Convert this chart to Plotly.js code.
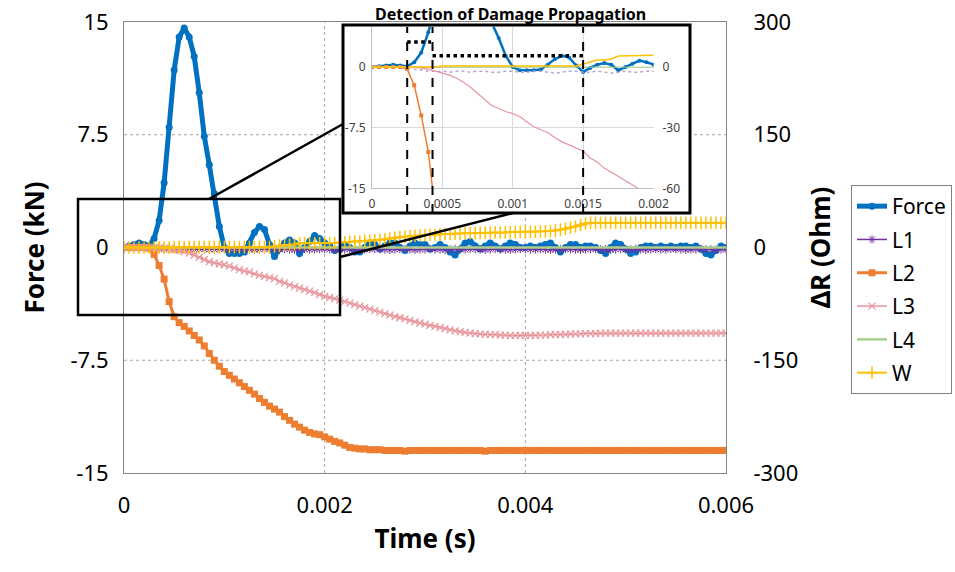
<!DOCTYPE html>
<html><head><meta charset="utf-8">
<script src="https://cdn.plot.ly/plotly-3.0.1.min.js"></script>
<style>html,body{margin:0;padding:0;background:#fff}#chart{width:955px;height:572px}</style>
</head><body><div id="chart"></div>
<script>
// time (s)
const T = [
0,0.00005,0.0001,0.00015,0.0002,0.00025,0.0003,0.00035,0.0004,0.00045,
0.0005,0.00055,0.0006,0.00065,0.0007,0.00075,0.0008,0.00085,0.0009,0.00095,
0.001,0.00105,0.0011,0.00115,0.0012,0.00125,0.0013,0.00135,0.0014,0.00145,
0.0015,0.00155,0.0016,0.00165,0.0017,0.00175,0.0018,0.00185,0.0019,0.00195,
0.002,0.00205,0.0021,0.00215,0.0022,0.00225,0.0023,0.00235,0.0024,0.00245,
0.0025,0.00255,0.0026,0.00265,0.0027,0.00275,0.0028,0.00285,0.0029,0.00295,
0.003,0.00305,0.0031,0.00315,0.0032,0.00325,0.0033,0.00335,0.0034,0.00345,
0.0035,0.00355,0.0036,0.00365,0.0037,0.00375,0.0038,0.00385,0.0039,0.00395,
0.004,0.00405,0.0041,0.00415,0.0042,0.00425,0.0043,0.00435,0.0044,0.00445,
0.0045,0.00455,0.0046,0.00465,0.0047,0.00475,0.0048,0.00485,0.0049,0.00495,
0.005,0.00505,0.0051,0.00515,0.0052,0.00525,0.0053,0.00535,0.0054,0.00545,
0.0055,0.00555,0.0056,0.00565,0.0057,0.00575,0.0058,0.00585,0.0059,0.00595,
0.006];
// Force (kN)
const force = [
0,0.1,0.2,0.3,0.2,0.1,0.6,1.8,4.3,8.0,
11.8,14.0,14.6,14.0,12.7,10.3,7.4,5.5,3.6,1.4,
0.0,-0.4,-0.4,-0.4,-0.3,0.3,1.0,1.4,1.2,0.2,
-0.6,-0.1,0.3,0.5,0.3,-0.4,0.0,0.4,0.8,0.6,
0.3,0.1,-0.2,-0.1,0.2,0.0,-0.3,-0.3,0.0,0.3,
0.2,-0.1,0.1,0.3,0.3,0.0,-0.2,0.1,0.3,0.2,
0.2,-0.1,0.0,0.2,0.0,-0.3,-0.5,-0.1,0.3,0.4,
0.1,-0.1,0.1,0.3,0.1,-0.1,0.1,0.3,0.2,0.0,
0.0,0.1,0.0,0.1,0.2,0.3,0.0,-0.3,0.0,0.2,
0.2,0.0,0.1,0.1,0.0,-0.2,-0.4,0.0,0.3,0.2,
-0.1,-0.4,-0.3,0.0,0.1,0.1,0.0,0.1,0.0,0.1,
0.0,0.1,0.1,0.0,0.1,-0.1,-0.4,-0.5,-0.2,0.1,
0.0];
// ΔR (Ohm)
const L1 = [
0,0,0,0,0,0,-1,-1.5,-2,-2,
-2,-2.5,-2,-2,-2.5,-2,-2,-2.5,-2.5,-2,
-2,-2.5,-2.5,-2,-2,-2.5,-3,-2.5,-2,-2,
-2.5,-2.5,-2,-2.5,-3,-2.5,-2,-2.5,-2.5,-2,
-2,-2.5,-3,-2.5,-2.5,-2,-2.5,-3,-2.5,-2,
-2,-2.5,-2.5,-3,-2.5,-2,-2,-2.5,-3,-2.5,
-2.5,-2,-2.5,-2.5,-3,-2.5,-2,-2.5,-2.5,-2,
-2,-2.5,-3,-2.5,-2,-2.5,-2.5,-3,-2.5,-2,
-2,-2.5,-2.5,-2,-2.5,-3,-2.5,-2.5,-2,-2.5,
-2.5,-3,-2.5,-2,-2,-2.5,-2.5,-3,-2.5,-2,
-2.5,-2.5,-2,-2.5,-3,-2.5,-2,-2.5,-2.5,-2,
-2,-2.5,-3,-2.5,-2.5,-2,-2.5,-2.5,-3,-2.5,
-2.5];
const L2 = [
0,0,0,0,0,-1,-9,-24,-42,-72,
-92,-100,-105,-111,-117,-123,-131,-141,-150,-158,
-165,-170,-175,-180,-185,-190,-195,-201,-206,-211,
-215,-219,-225,-230,-235,-239,-243,-246,-248,-249,
-252,-255,-258,-260,-263,-266,-267,-268,-268,-269,
-269,-269,-270,-270,-270,-270,-271,-270,-270,-270,
-270,-270,-270,-270,-270,-270,-270,-270,-270,-270,
-270,-270,-271,-270,-270,-270,-270,-270,-270,-270,
-270,-270,-270,-270,-270,-270,-270,-270,-270,-270,
-270,-270,-270,-270,-270,-270,-270,-270,-270,-270,
-270,-270,-270,-270,-270,-270,-270,-270,-270,-270,
-270,-270,-270,-270,-270,-270,-270,-270,-270,-270,
-270];
const L3 = [
0,0,0,0,0,0,0,-0.5,-1,-2,
-3,-4,-5.5,-7.5,-10,-13,-16,-19,-20.5,-22,
-23,-24.5,-27,-29.5,-31,-32.5,-35,-37,-38.5,-40,
-41.5,-45,-47,-50,-52,-54,-56,-58,-60,-62.5,
-65,-66.5,-68,-70,-72,-74,-76,-78,-80,-82,
-84,-86,-88,-90,-92,-93.5,-95,-97,-99,-100.5,
-102,-103.5,-105,-106.5,-108,-109.5,-111,-112,-113,-114,
-114.5,-115,-115.5,-116,-116,-116.5,-116.5,-117,-117,-117,
-117,-117,-117,-116.5,-116.5,-116,-116,-115.5,-115.5,-115,
-115,-115,-114.5,-114.5,-114.5,-114,-114,-114,-114,-114,
-114,-114,-114,-114,-114,-114,-114,-114,-114,-114,
-114,-114,-114,-114,-114,-114,-114,-114,-114,-114,
-114];
const L4 = [
0,0,0,0,0,0,0,0,0,0,
0,0,0,0,0,0,0,0,0,0,
0,0,0,0,0,0,0,0,0,0,
0,0,0,0,0,0,0,0,0,0,
0,0,0,0,0,0,0,0,0,0,
0,0,0,0,0,0,0,0,0,0,
0,0,0,0,0,0,0,0,0,0,
0,0,0,0,0,0,0,0,0,0,
0,0,0,0,0,0,0,0,0,0,
0,0,0,0,0,0,0,0,0,0,
0,0,0,0,0,0,0,0,0,0,
0,0,0,0,0,0,0,0,0,0,
0];
const W = [
0,0,0,0,0,0,0,0,0,0,
0.5,0.5,0.5,0.5,0.5,0.5,0.5,0.5,0.5,0.5,
0.5,0.5,0.5,0.5,0.5,0.5,0.5,0.5,0.5,0.5,
1.5,2.5,3.5,3.5,4,5.5,5.5,5.5,5.5,5.5,
5.5,5.5,6,6.5,7,7.5,8,8,8.5,9,
9.5,10,11,12,13,14,14.5,15,15.5,16,
16.5,17,17,17.5,18,18,18.5,18.5,19,19,
19,19.5,19.5,20,20,20,20,20.5,20.5,21,
21,21,21,21.5,21.5,22,22.5,23.5,25,26.5,
28,30,32,33,33,33,33,33,33,33,
33,33,33,33,33,33,33,33,33,33,
33,33,33,33,33,33,33,33,33,33,
33];

// ticks
const xTicks = [0,0.002,0.004,0.006];
const xTickText = ['0','0.002','0.004','0.006'];
const yTicks = [-15,-7.5,0,7.5,15];
const yTickText = ['-15','-7.5','0','7.5','15'];
const y2Ticks = [-300,-150,0,150,300];
const y2TickText = ['-300','-150','0','150','300'];
const insetXTicks = [0,0.0005,0.001,0.0015,0.002];
const insetXTickText = ['0','0.0005','0.001','0.0015','0.002'];
const insetYTicks = [-15,-7.5,0];
const insetYTickText = ['-15','-7.5','0'];
const insetY2Ticks = [-60,-30,0];
const insetY2TickText = ['-60','-30','0'];
const gridX = [0.002,0.004];
const gridY = [-7.5,7.5];
// damage-event markers in inset
const damageTimes = [0.00025,0.00043,0.0015];
const damageSpans = [[0.00025,0.00042,3.1],[0.00043,0.0015,1.4]];

const C = {force:'#0070C0', L1:'#7030A0', L2:'#ED7D31', L3:'#E8959C', L4:'#A9D18E', W:'#FFC000'};
const FONT = '"Noto Sans","Open Sans",sans-serif';

const traces = [
 {x:T,y:force,name:'Force',legendgroup:'a',xaxis:'x',yaxis:'y',mode:'lines+markers',line:{color:C.force,width:5},marker:{symbol:'circle',size:7,color:C.force}},
 {x:T,y:L1,name:'L1',legendgroup:'b',xaxis:'x',yaxis:'y2',mode:'lines+markers',line:{color:C.L1,width:1.5},marker:{symbol:'asterisk-open',size:7,color:C.L1,line:{color:C.L1,width:1}}},
 {x:T,y:L2,name:'L2',legendgroup:'c',xaxis:'x',yaxis:'y2',mode:'lines+markers',line:{color:C.L2,width:3},marker:{symbol:'square',size:7,color:C.L2}},
 {x:T,y:L3,name:'L3',legendgroup:'d',xaxis:'x',yaxis:'y2',mode:'lines+markers',line:{color:C.L3,width:1.5},marker:{symbol:'x-thin-open',size:7,color:C.L3,line:{color:C.L3,width:1.2}}},
 {x:T,y:L4,name:'L4',legendgroup:'e',xaxis:'x',yaxis:'y2',mode:'lines',line:{color:C.L4,width:2.5}},
 {x:T,y:W,name:'W',legendgroup:'f',xaxis:'x',yaxis:'y2',mode:'lines+markers',line:{color:C.W,width:2},marker:{symbol:'cross-thin-open',size:9,color:C.W,line:{color:C.W,width:1.5}}},
 // inset
 {x:T,y:force,xaxis:'x2',yaxis:'y3',showlegend:false,mode:'lines+markers',line:{color:C.force,width:2.5},marker:{size:4,color:C.force}},
 {x:T,y:L1,xaxis:'x2',yaxis:'y4',showlegend:false,mode:'lines',line:{color:'#B9A3D1',width:1.5,dash:'dot'}},
 {x:T,y:L2,xaxis:'x2',yaxis:'y4',showlegend:false,mode:'lines+markers',line:{color:C.L2,width:1.5},marker:{symbol:'square',size:4,color:C.L2}},
 {x:T,y:L3,xaxis:'x2',yaxis:'y4',showlegend:false,mode:'lines',line:{color:C.L3,width:1.2}},
 {x:T,y:L4,xaxis:'x2',yaxis:'y4',showlegend:false,mode:'lines',line:{color:C.L4,width:1}},
 {x:T,y:W,xaxis:'x2',yaxis:'y4',showlegend:false,mode:'lines',line:{color:C.W,width:1.5}}
];

const P = {l:124,r:229,t:22,b:99,w:955,h:572};
const px = v => (v-P.l)/(P.w-P.l-P.r);
const py = v => (P.h-P.b-v)/(P.h-P.t-P.b);

const shapes = [];
gridX.forEach(g=>shapes.push({type:'line',xref:'x',yref:'paper',x0:g,x1:g,y0:0,y1:1,layer:'below',line:{color:'#A6A6A6',width:1,dash:'dot'}}));
gridY.forEach(g=>shapes.push({type:'line',xref:'paper',yref:'y',x0:0,x1:1,y0:g,y1:g,layer:'below',line:{color:'#A6A6A6',width:1,dash:'dot'}}));
// inset background + border
shapes.push({type:'rect',xref:'paper',yref:'paper',x0:px(343),x1:px(690),y0:py(213),y1:py(25),layer:'below',fillcolor:'#ffffff',line:{width:0}});
shapes.push({type:'rect',xref:'paper',yref:'paper',x0:px(343),x1:px(690),y0:py(213),y1:py(25),layer:'above',line:{color:'#000',width:3}});
// zoom box on main plot
shapes.push({type:'rect',xref:'paper',yref:'paper',x0:px(78),x1:px(340),y0:py(315),y1:py(199),layer:'above',line:{color:'#000',width:2.5}});
shapes.push({type:'line',xref:'paper',yref:'paper',x0:px(209),y0:py(199),x1:px(343),y1:py(124),layer:'above',line:{color:'#000',width:2.5}});
shapes.push({type:'line',xref:'paper',yref:'paper',x0:px(340),y0:py(257),x1:px(513),y1:py(213),layer:'above',line:{color:'#000',width:2.5}});
damageTimes.forEach(t=>shapes.push({type:'line',xref:'x2',yref:'paper',x0:t,x1:t,y0:py(213),y1:py(27),layer:'above',line:{color:'#000',width:2,dash:'dash'}}));
damageSpans.forEach(s=>shapes.push({type:'line',xref:'x2',yref:'y3',x0:s[0],x1:s[1],y0:s[2],y1:s[2],layer:'above',line:{color:'#000',width:3.5,dash:'dot'}}));

const layout = {
 width:955,height:572,margin:{l:P.l,r:P.r,t:P.t,b:P.b},
 paper_bgcolor:'#fff',plot_bgcolor:'#fff',
 font:{family:FONT,color:'#000'},
 showlegend:true,
 legend:{xref:'container',yref:'container',x:851/955,y:(572-185)/572,xanchor:'left',yanchor:'top',bordercolor:'#7F7F7F',borderwidth:1,bgcolor:'#fff',font:{size:21,color:'#000'},itemwidth:30,traceorder:'grouped',tracegroupgap:3},
 xaxis:{domain:[0,1],anchor:'y',range:[0,0.006],tickvals:xTicks,ticktext:xTickText,showgrid:false,zeroline:false,showline:true,mirror:true,linecolor:'#868686',linewidth:1,ticks:'',ticklabelstandoff:13,tickfont:{size:22},
  title:{text:'<b>Time (s)</b>',font:{size:26},standoff:11}},
 yaxis:{domain:[0,1],anchor:'x',range:[-15,15],tickvals:yTicks,ticktext:yTickText,showgrid:false,zeroline:false,showline:true,mirror:true,linecolor:'#868686',linewidth:1,ticks:'',ticklabelstandoff:10,tickfont:{size:22},
  title:{text:'<b>Force (kN)</b>',font:{size:26},standoff:18}},
 yaxis2:{overlaying:'y',side:'right',anchor:'x',range:[-300,300],tickvals:y2Ticks,ticktext:y2TickText,showgrid:false,zeroline:false,showline:true,linecolor:'#868686',ticks:'',ticklabelstandoff:22,tickfont:{size:22},
  title:{text:'<b>ΔR (Ohm)</b>',font:{size:26},standoff:14}},
 xaxis2:{domain:[px(372),px(653.5)],anchor:'y3',range:[0,0.002],tickvals:insetXTicks,ticktext:insetXTickText,showgrid:true,gridcolor:'#D9D9D9',gridwidth:1,zeroline:false,showline:true,linecolor:'#BFBFBF',ticks:'',ticklabelstandoff:4,tickfont:{size:12,color:'#404040'}},
 yaxis3:{domain:[py(188.3),py(26.7)],anchor:'x2',range:[-15,5],tickvals:insetYTicks,ticktext:insetYTickText,showgrid:true,gridcolor:'#D9D9D9',zeroline:false,showline:true,linecolor:'#BFBFBF',ticks:'',ticklabelstandoff:3,tickfont:{size:12,color:'#404040'}},
 yaxis4:{overlaying:'y3',side:'right',anchor:'x2',range:[-60,20],tickvals:insetY2Ticks,ticktext:insetY2TickText,showgrid:false,zeroline:false,showline:false,ticks:'',ticklabelstandoff:8,tickfont:{size:12,color:'#404040'}},
 shapes:shapes,
 annotations:[{text:'<b>Detection of Damage Propagation</b>',xref:'paper',yref:'paper',x:px(510),y:py(14),xanchor:'center',yanchor:'middle',showarrow:false,font:{size:16,color:'#000'}}]
};
Plotly.newPlot('chart',traces,layout,{displayModeBar:false,staticPlot:true});
</script></body></html>
